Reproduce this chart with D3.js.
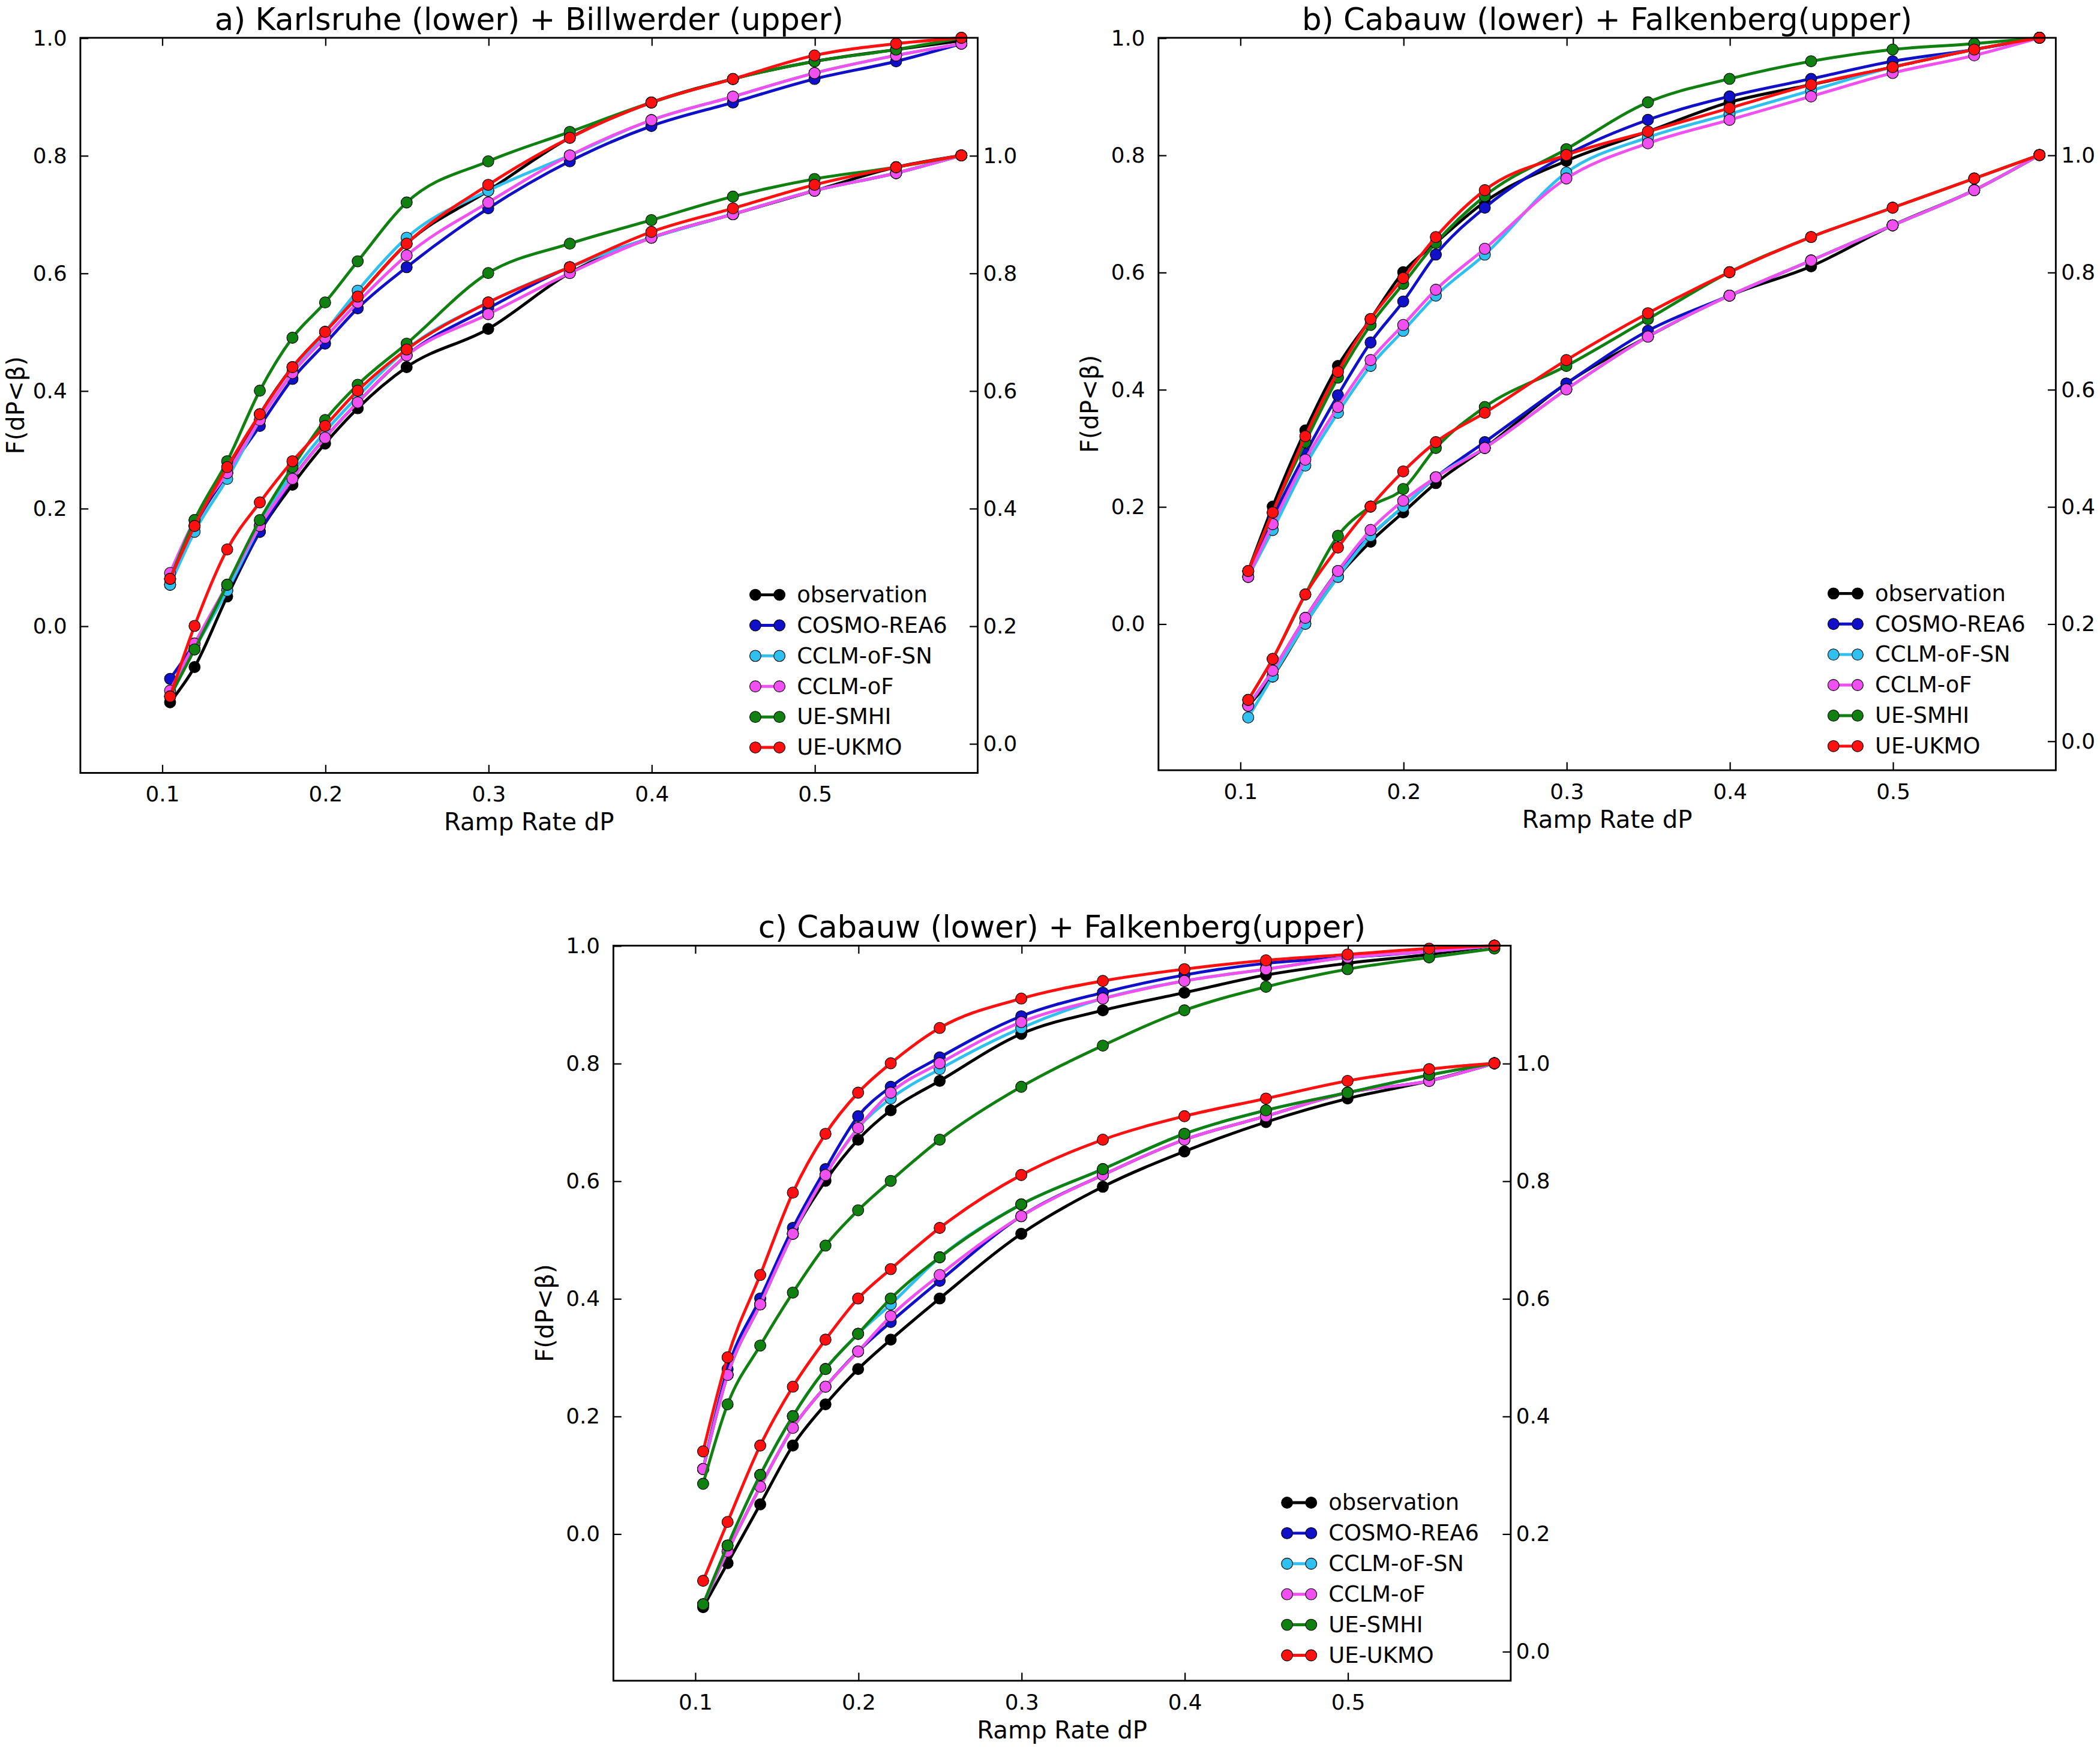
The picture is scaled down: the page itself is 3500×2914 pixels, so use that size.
<!DOCTYPE html>
<html><head><meta charset="utf-8">
<script src="https://cdn.jsdelivr.net/npm/d3@7"></script>
<style>body{margin:0;background:#fff}</style></head>
<body><div id="c"></div>
<script>
const xs = [0.105,0.12,0.14,0.16,0.18,0.2,0.22,0.25,0.3,0.35,0.4,0.45,0.5,0.55,0.59];
const seriesNames = ["observation","COSMO-REA6","CCLM-oF-SN","CCLM-oF","UE-SMHI","UE-UKMO"];
const seriesColors = ["#000000","#1010c8","#30c0f0","#f050f0","#108010","#ff1010"];
const titles = ["a) Karlsruhe (lower) + Billwerder (upper)","b) Cabauw (lower) + Falkenberg(upper)","c) Cabauw (lower) + Falkenberg(upper)"];
const xTicks = [0.1,0.2,0.3,0.4,0.5];
const leftTicks = [0.0,0.2,0.4,0.6,0.8,1.0];
const rightTicks = [0.0,0.2,0.4,0.6,0.8,1.0];
// upper curves (left axis), order as seriesNames
const aUpper = [
 [0.07,0.17,0.26,0.36,0.44,0.50,0.56,0.65,0.74,0.83,0.89,0.93,0.96,0.98,0.995],
 [0.08,0.17,0.26,0.34,0.42,0.48,0.54,0.61,0.71,0.79,0.85,0.89,0.93,0.96,0.99],
 [0.07,0.16,0.25,0.35,0.43,0.50,0.57,0.66,0.74,0.80,0.86,0.90,0.94,0.97,0.99],
 [0.09,0.18,0.26,0.35,0.43,0.49,0.55,0.63,0.72,0.80,0.86,0.90,0.94,0.97,0.99],
 [0.08,0.18,0.28,0.40,0.49,0.55,0.62,0.72,0.79,0.84,0.89,0.93,0.96,0.98,1.0],
 [0.08,0.17,0.27,0.36,0.44,0.50,0.56,0.65,0.75,0.83,0.89,0.93,0.97,0.99,1.0]];
const aLower = [
 [0.07,0.13,0.25,0.36,0.44,0.51,0.57,0.64,0.705,0.80,0.86,0.90,0.94,0.98,1.0],
 [0.11,0.17,0.26,0.36,0.45,0.52,0.58,0.66,0.74,0.81,0.86,0.90,0.94,0.97,1.0],
 [0.08,0.16,0.26,0.37,0.46,0.53,0.59,0.67,0.75,0.81,0.86,0.90,0.94,0.97,1.0],
 [0.09,0.17,0.27,0.37,0.45,0.52,0.58,0.66,0.73,0.80,0.86,0.90,0.94,0.97,1.0],
 [0.08,0.16,0.27,0.38,0.47,0.55,0.61,0.68,0.80,0.85,0.89,0.93,0.96,0.98,1.0],
 [0.08,0.20,0.33,0.41,0.48,0.54,0.60,0.67,0.75,0.81,0.87,0.91,0.95,0.98,1.0]];
const bUpper = [
 [0.09,0.20,0.33,0.44,0.52,0.60,0.65,0.72,0.79,0.84,0.89,0.92,0.95,0.98,1.0],
 [0.08,0.18,0.29,0.39,0.48,0.55,0.63,0.71,0.80,0.86,0.90,0.93,0.96,0.98,1.0],
 [0.08,0.16,0.27,0.36,0.44,0.50,0.56,0.63,0.77,0.83,0.87,0.91,0.95,0.98,1.0],
 [0.08,0.17,0.28,0.37,0.45,0.51,0.57,0.64,0.76,0.82,0.86,0.90,0.94,0.97,1.0],
 [0.09,0.19,0.31,0.42,0.51,0.58,0.65,0.73,0.81,0.89,0.93,0.96,0.98,0.99,1.0],
 [0.09,0.19,0.32,0.43,0.52,0.59,0.66,0.74,0.80,0.84,0.88,0.92,0.95,0.98,1.0]];
const bLower = [
 [0.06,0.11,0.20,0.28,0.34,0.39,0.44,0.50,0.61,0.69,0.76,0.81,0.88,0.94,1.0],
 [0.06,0.12,0.21,0.29,0.35,0.40,0.45,0.51,0.61,0.70,0.76,0.82,0.88,0.94,1.0],
 [0.04,0.11,0.20,0.28,0.35,0.40,0.45,0.50,0.60,0.69,0.76,0.82,0.88,0.94,1.0],
 [0.06,0.12,0.21,0.29,0.36,0.41,0.45,0.50,0.60,0.69,0.76,0.82,0.88,0.94,1.0],
 [0.07,0.14,0.25,0.35,0.40,0.43,0.50,0.57,0.64,0.72,0.80,0.86,0.91,0.96,1.0],
 [0.07,0.14,0.25,0.33,0.40,0.46,0.51,0.56,0.65,0.73,0.80,0.86,0.91,0.96,1.0]];
const cUpper = [
 [0.11,0.27,0.39,0.51,0.60,0.67,0.72,0.77,0.85,0.89,0.92,0.95,0.97,0.985,1.0],
 [0.11,0.28,0.40,0.52,0.62,0.71,0.76,0.81,0.88,0.92,0.95,0.97,0.98,0.99,1.0],
 [0.11,0.27,0.39,0.51,0.61,0.69,0.74,0.79,0.86,0.91,0.94,0.96,0.98,0.99,1.0],
 [0.11,0.27,0.39,0.51,0.61,0.69,0.75,0.80,0.87,0.91,0.94,0.96,0.98,0.99,1.0],
 [0.085,0.22,0.32,0.41,0.49,0.55,0.60,0.67,0.76,0.83,0.89,0.93,0.96,0.98,0.995],
 [0.14,0.30,0.44,0.58,0.68,0.75,0.80,0.86,0.91,0.94,0.96,0.975,0.985,0.995,1.0]];
const cLower = [
 [0.075,0.15,0.25,0.35,0.42,0.48,0.53,0.60,0.71,0.79,0.85,0.90,0.94,0.97,1.0],
 [0.08,0.17,0.28,0.38,0.45,0.51,0.56,0.63,0.74,0.81,0.87,0.91,0.95,0.97,1.0],
 [0.08,0.18,0.30,0.40,0.48,0.54,0.59,0.67,0.76,0.82,0.88,0.92,0.95,0.98,1.0],
 [0.08,0.17,0.28,0.38,0.45,0.51,0.57,0.64,0.74,0.81,0.87,0.91,0.95,0.97,1.0],
 [0.08,0.18,0.30,0.40,0.48,0.54,0.60,0.67,0.76,0.82,0.88,0.92,0.95,0.98,1.0],
 [0.12,0.22,0.35,0.45,0.53,0.60,0.65,0.72,0.81,0.87,0.91,0.94,0.97,0.99,1.0]];

const panels = [
 {title:titles[0], up:aUpper, lo:aLower, box:[60,28,730,577], leg:[560,444], ylab:10},
 {title:titles[1], up:bUpper, lo:bLower, box:[865,28,1535,575], leg:[1365,443], ylab:812},
 {title:titles[2], up:cUpper, lo:cLower, box:[458,706,1128,1255], leg:[957,1122], ylab:405}];

const svg = d3.select("#c").append("svg").attr("width",3500).attr("height",2914)
  .attr("viewBox","0 0 1568 1305").style("font-family","'DejaVu Sans', sans-serif");
svg.append("rect").attr("width",1568).attr("height",1305).attr("fill","#fff");

panels.forEach(p=>{
  const [L,T,R,B]=p.box;
  const x=d3.scaleLinear().domain([0.05,0.6]).range([L,R]);
  const yl=d3.scaleLinear().domain([-0.25,1.0]).range([B,T]);
  const yr=d3.scaleLinear().domain([-0.05,1.2]).range([B,T]);
  const g=svg.append("g");
  const tk=6;
  g.append("g").attr("transform",`translate(0,${B})`).call(d3.axisBottom(x).tickValues(xTicks).tickFormat(d3.format(".1f")).tickSizeInner(-tk).tickSizeOuter(0).tickPadding(10));
  g.append("g").attr("transform",`translate(0,${T})`).call(d3.axisTop(x).tickValues(xTicks).tickFormat("").tickSizeInner(-tk).tickSizeOuter(0));
  g.append("g").attr("transform",`translate(${L},0)`).call(d3.axisLeft(yl).tickValues(leftTicks).tickFormat(d3.format(".1f")).tickSizeInner(-tk).tickSizeOuter(0).tickPadding(10));
  g.append("g").attr("transform",`translate(${R},0)`).call(d3.axisRight(yr).tickValues(rightTicks).tickFormat(d3.format(".1f")).tickSizeInner(-tk).tickSizeOuter(0).tickPadding(4));
  g.selectAll(".domain").remove();
  g.selectAll(".tick line").attr("stroke","#000");
  g.selectAll(".tick text").attr("font-size",16).attr("fill","#000").attr("font-family","'DejaVu Sans', sans-serif");
  const line=(ys,yS)=>d3.line().curve(d3.curveMonotoneX).x((d,i)=>x(xs[i])).y(d=>yS(d))(ys);
  [[p.lo,yr],[p.up,yl]].forEach(([set,yS])=>{
    set.forEach((ys,si)=>{
      g.append("path").attr("d",line(ys,yS)).attr("fill","none").attr("stroke",seriesColors[si]).attr("stroke-width",2.2);
      g.selectAll(null).data(ys).enter().append("circle").attr("cx",(d,i)=>x(xs[i])).attr("cy",d=>yS(d)).attr("r",4.2)
        .attr("fill",seriesColors[si]).attr("stroke","#000").attr("stroke-width",0.5);
    });
  });
  g.append("rect").attr("x",L).attr("y",T).attr("width",R-L).attr("height",B-T).attr("fill","none").attr("stroke","#000").attr("stroke-width",1.3);
  g.append("text").attr("x",(L+R)/2).attr("y",T-6).attr("text-anchor","middle").attr("font-size",23).text(p.title);
  g.append("text").attr("x",(L+R)/2).attr("y",B+43).attr("text-anchor","middle").attr("font-size",18).text("Ramp Rate dP");
  g.append("text").attr("transform",`translate(${p.ylab+8},${(T+B)/2}) rotate(-90)`).attr("text-anchor","middle").attr("font-size",18).text("F(dP<β)");
  const [lx,ly]=p.leg;
  seriesNames.forEach((n,i)=>{
    const yy=ly+i*22.8;
    g.append("line").attr("x1",lx+4).attr("x2",lx+22).attr("y1",yy).attr("y2",yy).attr("stroke",seriesColors[i]).attr("stroke-width",2.2);
    [lx+4,lx+22].forEach(cx=>g.append("circle").attr("cx",cx).attr("cy",yy).attr("r",4.2).attr("fill",seriesColors[i]).attr("stroke","#000").attr("stroke-width",0.5));
    g.append("text").attr("x",lx+35).attr("y",yy+5.5).attr("font-size",16.5).text(n);
  });
});
</script></body></html>
